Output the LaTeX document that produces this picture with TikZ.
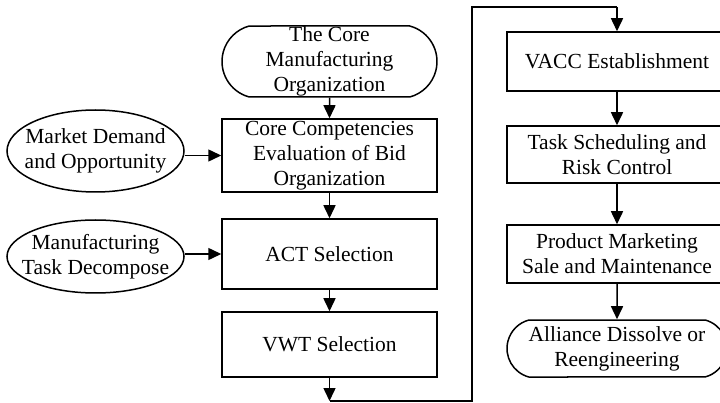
\documentclass[tikz,border=0pt]{standalone}
\usepackage{fontspec}
\setmainfont{Liberation Serif}
\usetikzlibrary{arrows.meta,shapes.geometric,shapes.misc}
\begin{document}
\begin{tikzpicture}[x=1pt,y=-1pt,
  every node/.style={font=\fontsize{21.5}{25}\selectfont, align=center, inner sep=0pt},
  boxl/.style={draw, line width=1.5pt, rectangle, minimum width=215pt},
  boxr/.style={draw, line width=1.5pt, rectangle, minimum width=220pt},
  term/.style={draw, line width=1.5pt, rounded rectangle, rounded rectangle arc length=150},
  ell/.style={draw, line width=1.5pt, ellipse, minimum width=177pt},
  arr/.style={line width=1.5pt, -{Triangle[length=13pt,width=12pt]}},
  ln/.style={line width=1.5pt}]
\useasboundingbox (0,0) rectangle (720,403);
\node[term, minimum width=215pt, minimum height=71pt] (cmo) at (329.5,61.5) {The Core\\Manufacturing\\Organization};
\node[boxl, minimum height=73pt] (cce) at (329.5,155.5) {Core Competencies\\Evaluation of Bid\\Organization};
\node[boxl, minimum height=70pt] (act) at (329.5,254) {ACT Selection};
\node[boxl, minimum height=65pt] (vwt) at (329.5,344.5) {VWT Selection};
\node[ell, minimum height=82pt, label={center:Market Demand\\and Opportunity}] (mkt) at (95.5,151) {};
\node[ell, minimum height=73pt, label={center:Manufacturing\\Task Decompose}] (mtd) at (95.5,256.5) {};
\node[boxr, minimum height=59pt] (vacc) at (617,61.5) {VACC Establishment};
\node[boxr, minimum height=57pt] (tsr) at (617,154.5) {Task Scheduling and\\Risk Control};
\node[boxr, minimum height=58pt] (pms) at (617,254) {Product Marketing\\Sale and Maintenance};
\node[term, minimum width=220pt, minimum height=57pt] (ads) at (617,348.5) {Alliance Dissolve or\\Reengineering};
\coordinate (b1) at (329.5,401);
\coordinate (b2) at (472,401);
\coordinate (t1) at (472,7);
\coordinate (t2) at (617,7);
\draw[arr] (cmo) -- (cce);
\draw[arr] (cce) -- (act);
\draw[arr] (act) -- (vwt);
\draw[arr] (vwt) -- (b1);
\draw[ln] (b1) -- (b2) -- (t1) -- (t2);
\draw[arr] (t2) -- (vacc);
\draw[arr] (mkt.east |- cce.west) -- (cce.west);
\draw[arr] (mtd.east |- act.west) -- (act.west);
\draw[arr] (vacc) -- (tsr);
\draw[arr] (tsr) -- (pms);
\draw[arr] (pms) -- (ads);
\end{tikzpicture}
\end{document}
